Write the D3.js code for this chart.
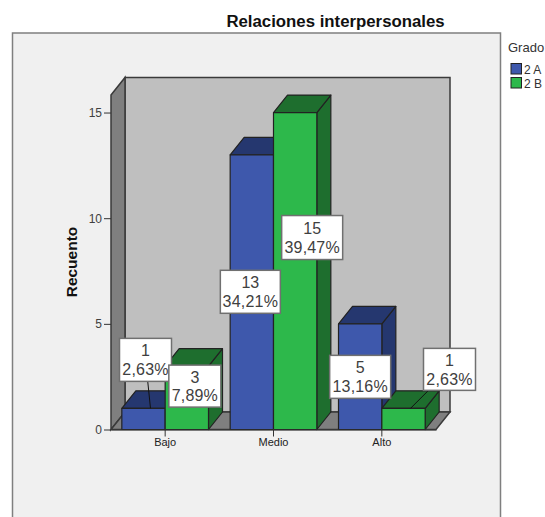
<!DOCTYPE html>
<html>
<head>
<meta charset="utf-8">
<script src="https://cdn.jsdelivr.net/npm/d3@7"></script>
<style>
  html, body { margin: 0; padding: 0; background: #fff; }
  svg { display: block; font-family: "Liberation Sans", Arial, sans-serif; }
</style>
</head>
<body>
<script>
const categories = ["Bajo", "Medio", "Alto"];
const groups = ["2 A", "2 B"];
const valuesA = [1, 13, 5];
const valuesB = [3, 15, 1];
const percentA = ["2,63%", "34,21%", "13,16%"];
const percentB = ["7,89%", "39,47%", "2,63%"];
const yTicks = [0, 5, 10, 15];

const WIDTH = 545;
const HEIGHT = 517;
const PLOT = { left: 111, right: 436, top: 95, bottom: 429.5 };
const DEPTH = { x: 14, y: -17.5 };
const Y_MAX = 15.83;

const COLORS = {
  "2 A": { front: "#3e58ac", side: "#25376f" },
  "2 B": { front: "#2db84b", side: "#1e6e2e" }
};
const EDGE = "#222";
const LEADER_END = { dx: 7, dy: 0 };

// label box centre relative to the bar's front top centre, the boxes were moved by hand in the original
const LABEL_BOXES = {
  "2 A": [
    { dx: 2, dy: -48.5, w: 52, h: 43, leader: true },
    { dx: -1.5, dy: 137, w: 60, h: 43 },
    { dx: 0, dy: 53, w: 61, h: 43 }
  ],
  "2 B": [
    { dx: 8, dy: 20, w: 52, h: 42 },
    { dx: 17, dy: 125, w: 61, h: 44 },
    { dx: 46, dy: -39, w: 52, h: 42, leader: true }
  ]
};

const svg = d3.select("body").append("svg")
  .attr("width", WIDTH)
  .attr("height", HEIGHT);

const x = d3.scaleBand()
  .domain(categories)
  .range([PLOT.left, PLOT.right])
  .paddingInner(0.2)
  .paddingOuter(0.1);

const xGroup = d3.scaleBand()
  .domain(groups)
  .range([0, x.bandwidth()]);

const y = d3.scaleLinear()
  .domain([0, Y_MAX])
  .range([PLOT.bottom, PLOT.top]);

const points = pts => pts.map(p => p.join(",")).join(" ");

// frame, open at the bottom because the picture is cut there
svg.append("rect")
  .attr("x", 12.5).attr("y", 33)
  .attr("width", 488).attr("height", HEIGHT)
  .attr("fill", "#f0f0f0")
  .attr("stroke", "#7f7f7f")
  .attr("stroke-width", 1.5);

// walls and floor
const walls = svg.append("g").attr("stroke", "#3a3a3a").attr("stroke-width", 1.5);
walls.append("rect")
  .attr("x", PLOT.left + DEPTH.x)
  .attr("y", PLOT.top + DEPTH.y)
  .attr("width", PLOT.right - PLOT.left)
  .attr("height", PLOT.bottom - PLOT.top)
  .attr("fill", "#bfbfbf");
walls.append("polygon")
  .attr("points", points([
    [PLOT.left, PLOT.top],
    [PLOT.left + DEPTH.x, PLOT.top + DEPTH.y],
    [PLOT.left + DEPTH.x, PLOT.bottom + DEPTH.y],
    [PLOT.left, PLOT.bottom]
  ]))
  .attr("fill", "#7f7f7f");
walls.append("polygon")
  .attr("points", points([
    [PLOT.left, PLOT.bottom],
    [PLOT.left + DEPTH.x, PLOT.bottom + DEPTH.y],
    [PLOT.right + DEPTH.x, PLOT.bottom + DEPTH.y],
    [PLOT.right, PLOT.bottom]
  ]))
  .attr("fill", "#7f7f7f");

// bars
const bars = [];
categories.forEach((category, i) => {
  bars.push({ category, group: "2 A", value: valuesA[i], percent: percentA[i], box: LABEL_BOXES["2 A"][i] });
  bars.push({ category, group: "2 B", value: valuesB[i], percent: percentB[i], box: LABEL_BOXES["2 B"][i] });
});

const barX = d => x(d.category) + xGroup(d.group);
const barW = xGroup.bandwidth();

const barGroups = svg.append("g")
  .selectAll("g")
  .data(bars)
  .join("g")
  .attr("stroke", EDGE)
  .attr("stroke-width", 1.2)
  .attr("stroke-linejoin", "round");

barGroups.append("polygon")
  .attr("fill", d => COLORS[d.group].side)
  .attr("points", d => points([
    [barX(d) + barW, y(d.value)],
    [barX(d) + barW + DEPTH.x, y(d.value) + DEPTH.y],
    [barX(d) + barW + DEPTH.x, y(0) + DEPTH.y],
    [barX(d) + barW, y(0)]
  ]));

barGroups.append("polygon")
  .attr("fill", d => COLORS[d.group].side)
  .attr("points", d => points([
    [barX(d), y(d.value)],
    [barX(d) + DEPTH.x, y(d.value) + DEPTH.y],
    [barX(d) + barW + DEPTH.x, y(d.value) + DEPTH.y],
    [barX(d) + barW, y(d.value)]
  ]));

barGroups.append("rect")
  .attr("fill", d => COLORS[d.group].front)
  .attr("x", barX)
  .attr("y", d => y(d.value))
  .attr("width", barW)
  .attr("height", d => y(0) - y(d.value));

// axes
const yAxis = svg.append("g")
  .attr("transform", `translate(${PLOT.left},0)`)
  .call(d3.axisLeft(y).tickValues(yTicks).tickSize(7).tickPadding(2).tickSizeOuter(0));
yAxis.select(".domain").remove();
yAxis.selectAll("line").attr("stroke", "#333").attr("stroke-width", 1);
yAxis.selectAll("text")
  .attr("font-family", "Liberation Sans")
  .attr("font-size", 12)
  .attr("fill", "#404040");

const xAxis = svg.append("g")
  .attr("transform", `translate(0,${PLOT.bottom})`)
  .call(d3.axisBottom(x).tickSize(7).tickPadding(2).tickSizeOuter(0));
xAxis.select(".domain").attr("stroke", "#333").attr("stroke-width", 1.2);
xAxis.selectAll("line").attr("stroke", "#333").attr("stroke-width", 1);
xAxis.selectAll("text")
  .attr("font-family", "Liberation Sans")
  .attr("font-size", 11)
  .attr("fill", "#222");

// value labels
const labels = svg.append("g")
  .selectAll("g")
  .data(bars)
  .join("g")
  .attr("transform", d => `translate(${barX(d) + barW / 2 + d.box.dx},${y(d.value) + d.box.dy})`);

labels.filter(d => d.box.leader).append("line")
  .attr("x1", 0).attr("y1", 0)
  .attr("x2", d => -d.box.dx + LEADER_END.dx)
  .attr("y2", d => -d.box.dy + LEADER_END.dy)
  .attr("stroke", "#111");

labels.append("rect")
  .attr("x", d => -d.box.w / 2)
  .attr("y", d => -d.box.h / 2)
  .attr("width", d => d.box.w)
  .attr("height", d => d.box.h)
  .attr("fill", "#fff")
  .attr("stroke", "#707070")
  .attr("stroke-width", 1.5);

labels.append("text")
  .attr("text-anchor", "middle")
  .attr("y", -3.4)
  .attr("font-size", 16)
  .attr("fill", "#404040")
  .text(d => d.value);

labels.append("text")
  .attr("text-anchor", "middle")
  .attr("y", 15.4)
  .attr("font-size", 16)
  .attr("letter-spacing", 0.2)
  .attr("fill", "#404040")
  .text(d => d.percent);

// title and axis title
svg.append("text")
  .attr("x", 335.5).attr("y", 27)
  .attr("text-anchor", "middle")
  .attr("font-size", 16.8)
  .attr("font-weight", "bold")
  .attr("fill", "#111")
  .text("Relaciones interpersonales");

svg.append("text")
  .attr("transform", "translate(77,262) rotate(-90)")
  .attr("text-anchor", "middle")
  .attr("font-size", 15.5)
  .attr("font-weight", "bold")
  .attr("fill", "#111")
  .text("Recuento");

// legend
svg.append("text")
  .attr("x", 508).attr("y", 52)
  .attr("font-size", 13)
  .attr("fill", "#333")
  .text("Grado");

const legendY = d3.scaleBand().domain(groups).range([62, 90]);
const legend = svg.append("g")
  .selectAll("g")
  .data(groups)
  .join("g")
  .attr("transform", d => `translate(511,${legendY(d)})`);

legend.append("rect")
  .attr("y", 1.5)
  .attr("width", 10.5)
  .attr("height", 10.5)
  .attr("fill", d => COLORS[d].front)
  .attr("stroke", EDGE);

legend.append("text")
  .attr("x", 13).attr("y", 11.5)
  .attr("font-size", 12)
  .attr("fill", "#333")
  .text(d => d);
</script>
</body>
</html>
